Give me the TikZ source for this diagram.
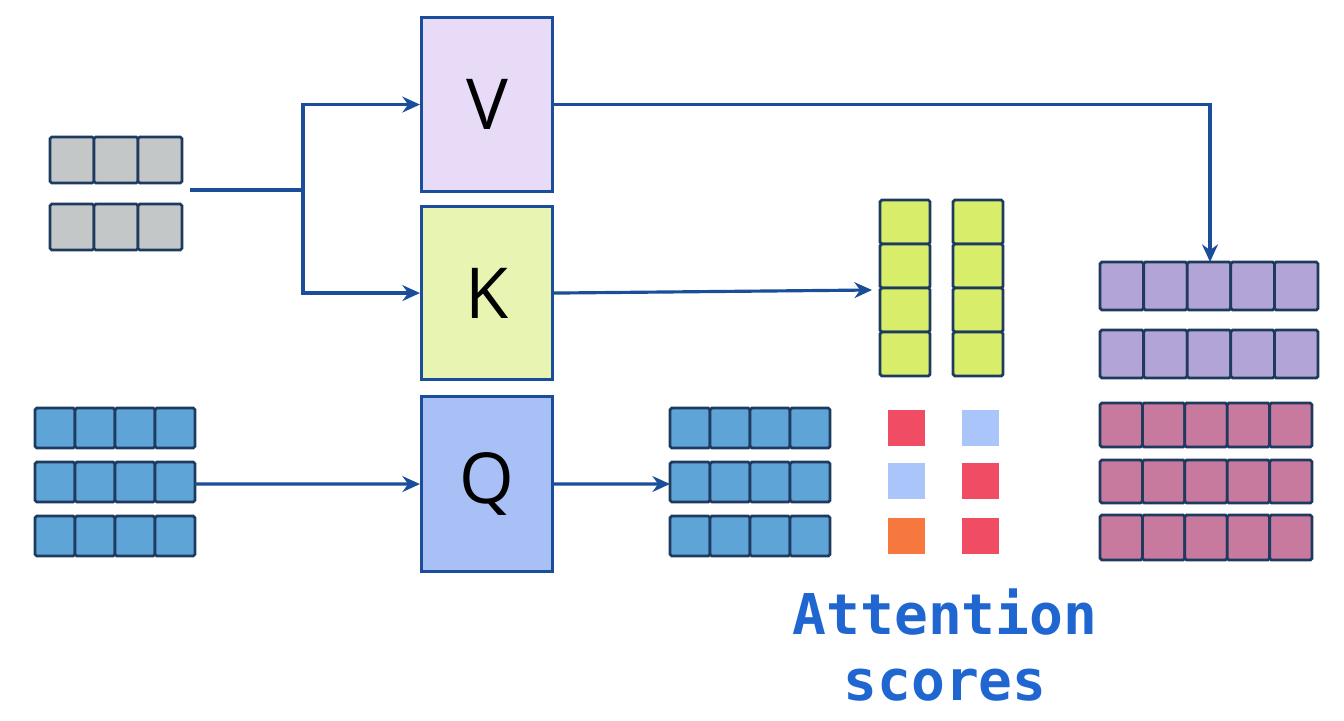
\documentclass[tikz,border=0pt]{standalone}
\usepackage{fontspec}
\setmainfont{Open Sans}
\setmonofont{DejaVu Sans Mono}
\usetikzlibrary{arrows.meta}
\definecolor{edge}{HTML}{1F3A5F}
\definecolor{arr}{HTML}{1A4E9A}
\definecolor{grayc}{HTML}{C4C7C8}
\definecolor{bluec}{HTML}{5FA4D6}
\definecolor{greenc}{HTML}{D8EE6A}
\definecolor{purpc}{HTML}{B3A4D6}
\definecolor{pinkc}{HTML}{C77A9E}
\definecolor{vfill}{HTML}{E7DBF8}
\definecolor{kfill}{HTML}{E8F4B2}
\definecolor{qfill}{HTML}{A9C0F6}
\definecolor{redc}{HTML}{F04C64}
\definecolor{lbc}{HTML}{A9C5FA}
\definecolor{orc}{HTML}{F7783F}
\definecolor{txtc}{HTML}{1F66D1}
\begin{document}
\begin{tikzpicture}[x=0.02cm,y=-0.02cm,
  cell/.style={draw=edge,line width=1.6pt,rounded corners=1pt},
  box/.style={draw=arr,line width=1.8pt,inner sep=0pt},
  a/.style={draw=arr,line width=1.8pt,-{Stealth[length=10pt,width=9pt]}},
  ln/.style={draw=arr,line width=1.8pt}]
\useasboundingbox (0,0) rectangle (1344,720);
% row macro: \rowcells{x0}{y0}{x1}{y1}{n}{color}
\newcommand{\rowcells}[6]{%
  \pgfmathsetmacro{\cw}{(#3-#1)/#5}%
  \foreach \i in {1,...,#5}{\path[cell,fill=#6] ({#1+(\i-1)*\cw},#2) rectangle ({#1+\i*\cw},#4);}}
% gray input
\rowcells{50}{137}{182}{183}{3}{grayc}
\rowcells{50}{204}{182}{250}{3}{grayc}
\coordinate (gin) at (190,190);
\coordinate (br) at (303,190);
% blue input
\rowcells{35}{408}{195}{448}{4}{bluec}
\rowcells{35}{462}{195}{502}{4}{bluec}
\rowcells{35}{516}{195}{556}{4}{bluec}
\coordinate (bin) at (195,484);
% boxes
\node[box,fill=vfill,minimum width=2.62cm,minimum height=3.48cm,anchor=north west,font=\fontsize{40}{40}\selectfont] (V) at (420,16) {V};
\node[box,fill=kfill,minimum width=2.62cm,minimum height=3.46cm,anchor=north west,font=\fontsize{40}{40}\selectfont] (K) at (420,205) {K};
\node[box,fill=qfill,minimum width=2.62cm,minimum height=3.5cm,anchor=north west,font=\fontsize{40}{40}\selectfont] (Q) at (420,395) {Q};
% blue output
\rowcells{670}{408}{830}{448}{4}{bluec}
\rowcells{670}{462}{830}{502}{4}{bluec}
\rowcells{670}{516}{830}{556}{4}{bluec}
\coordinate (bout) at (670,484);
% green columns
\foreach \x in {880,953}{\foreach \j in {0,1,2,3}{\path[cell,fill=greenc] (\x,{200+\j*44}) rectangle ({\x+50},{244+\j*44});}}
\coordinate (gcol) at (872,290);
% small squares
\fill[redc] (888,410) rectangle (925,446);
\fill[lbc] (888,463) rectangle (925,499);
\fill[orc] (888,518) rectangle (925,554);
\fill[lbc] (962,410) rectangle (999,446);
\fill[redc] (962,463) rectangle (999,499);
\fill[redc] (962,518) rectangle (999,554);
% purple & pink
\rowcells{1100}{262}{1318}{310}{5}{purpc}
\rowcells{1100}{330}{1318}{378}{5}{purpc}
\rowcells{1100}{403}{1312}{447}{5}{pinkc}
\rowcells{1100}{460}{1312}{503}{5}{pinkc}
\rowcells{1100}{515}{1312}{560}{5}{pinkc}
\coordinate (pin) at (1210,262);
% arrows
\draw[ln] (gin) -- (br);
\draw[a] (br) |- (V.west);
\draw[a] (br) |- (K.west);
\draw[a] (bin) -- (Q.west);
\draw[a] (Q.east) -- (bout);
\draw[a] (K.east) -- (gcol);
\draw[a] (V.east) -| (pin);
% text
\node[text=txtc,font=\ttfamily\bfseries\fontsize{32}{32}\selectfont] (t1) at (945,612) {Attention};
\node[text=txtc,font=\ttfamily\bfseries\fontsize{32}{32}\selectfont] (t2) at (945,685) {scores};
\end{tikzpicture}
\end{document}
